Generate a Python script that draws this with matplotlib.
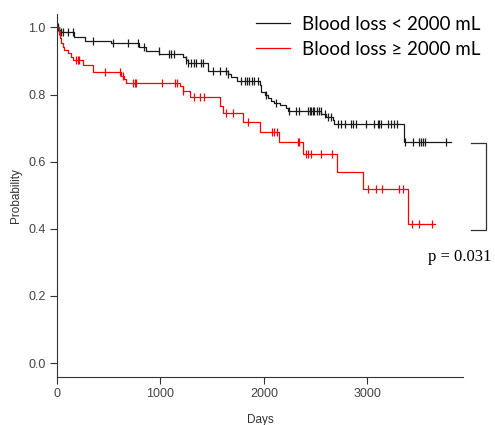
import numpy as np
import matplotlib
matplotlib.use("Agg")
import matplotlib.pyplot as plt

# Kaplan-Meier steps (days, survival after the step)
low_times = [0, 20, 35, 169, 275, 523, 797, 862, 990, 1215, 1242, 1262, 1457,
             1650, 1680, 1737, 1957, 1973, 2005, 2037, 2070, 2101, 2150, 2214,
             2230, 2553, 2601, 2665, 2681, 3350]
low_surv = [1.0, 0.993, 0.986, 0.970, 0.961, 0.955, 0.943, 0.931, 0.921, 0.913,
            0.903, 0.893, 0.870, 0.862, 0.853, 0.841, 0.829, 0.809, 0.799, 0.789,
            0.781, 0.774, 0.769, 0.759, 0.752, 0.742, 0.734, 0.724, 0.712, 0.658]
low_end = 3809
low_cens = [12, 40, 56, 104, 153, 346, 539, 684, 781, 845, 983, 1080, 1103, 1126,
            1248, 1264, 1297, 1322, 1345, 1393, 1409, 1505, 1577, 1635, 1650,
            1780, 1812, 1834, 1860, 1886, 1908, 1940, 2021, 2118, 2246, 2311,
            2343, 2423, 2440, 2456, 2471, 2488, 2510, 2529, 2548, 2585, 2616,
            2643, 2713, 2746, 2778, 2842, 2858, 2891, 2981, 3061, 3106, 3116,
            3126, 3203, 3229, 3254, 3283, 3367, 3438, 3502, 3519, 3534, 3560,
            3760]

high_times = [0, 18, 31, 40, 56, 72, 104, 137, 153, 249, 346, 620, 652, 668,
              1184, 1215, 1287, 1577, 1602, 1795, 1957, 2143, 2375, 2703, 2955,
              3390]
high_surv = [1.0, 0.988, 0.968, 0.953, 0.943, 0.933, 0.923, 0.913, 0.903, 0.888,
             0.868, 0.855, 0.845, 0.834, 0.824, 0.812, 0.794, 0.766, 0.744, 0.717,
             0.689, 0.660, 0.623, 0.570, 0.519, 0.414]
high_end = 3657
high_cens = [20, 185, 201, 217, 459, 610, 636, 733, 749, 765, 1016, 1145, 1164,
             1215, 1322, 1377, 1425, 1635, 1705, 1850, 2079, 2092, 2130, 2327,
             2343, 2407, 2423, 2456, 2553, 2659, 3003, 3084, 3138, 3309, 3348,
             3432, 3496, 3625]

labels = ["Blood loss < 2000 mL", "Blood loss \u2265 2000 mL"]
colors = ["#1a1a1a", "#ff0000"]
x_ticks = [0, 1000, 2000, 3000]
y_ticks = [0.0, 0.2, 0.4, 0.6, 0.8, 1.0]
p_text = "p = 0.031"

fig = plt.figure(figsize=(4.95, 4.25), dpi=100)
ax = fig.add_axes([57 / 495, 48 / 425, 406 / 495, 363 / 425])

groups = [(low_times, low_surv, low_end, low_cens),
          (high_times, high_surv, high_end, high_cens)]
handles = []
for (t, s, end, cens), col, lab in zip(groups, colors, labels):
    t = np.array(t + [end])
    s = np.array(s + [s[-1]])
    ln, = ax.step(t, s, where="post", color=col, lw=0.9, label=lab)
    handles.append(ln)
    c = np.array(cens)
    cs = s[np.searchsorted(t, c, side="right") - 1]
    ax.plot(c, cs, ls="none", marker="|", ms=6, mew=0.9, color=col)

ax.set_xlim(0, 3923)
ax.set_ylim(-0.0417, 1.04)
ax.set_xticks(x_ticks)
ax.set_yticks(y_ticks)
ax.set_xticklabels([str(v) for v in x_ticks])
ax.set_yticklabels(["%.1f" % v for v in y_ticks])
for side in ["top", "right"]:
    ax.spines[side].set_visible(False)
for side in ["left", "bottom"]:
    ax.spines[side].set_color("#333333")
    ax.spines[side].set_linewidth(0.8)
ax.tick_params(direction="out", length=5, width=0.8, color="#333333",
               labelcolor="#444444", labelsize=9, pad=3)
for lbl in ax.get_xticklabels() + ax.get_yticklabels():
    lbl.set_family("Liberation Sans")
ax.set_xlabel("Days", family="Liberation Sans", fontsize=8.5, color="#333333",
              labelpad=10)
ax.set_ylabel("Probability", family="Liberation Sans", fontsize=8.5,
              color="#333333", labelpad=5)

fig.legend(handles=handles, labels=labels, loc="upper left",
           bbox_to_anchor=(252 / 495, 1 - 12 / 425), frameon=False,
           prop={"family": "Lato", "size": 13.5}, handlelength=1.85,
           handletextpad=0.6, labelspacing=0.42, borderaxespad=0, borderpad=0.2)

# bracket and p-value
ax.plot([4005, 4150, 4150, 4005], [0.656, 0.656, 0.396, 0.396], color="#333333",
        lw=0.9, clip_on=False)
ax.text(3580, 0.316, p_text, family="Liberation Serif", fontsize=12,
        ha="left", va="center", color="black", clip_on=False)

fig.savefig("out.png", dpi=100)
